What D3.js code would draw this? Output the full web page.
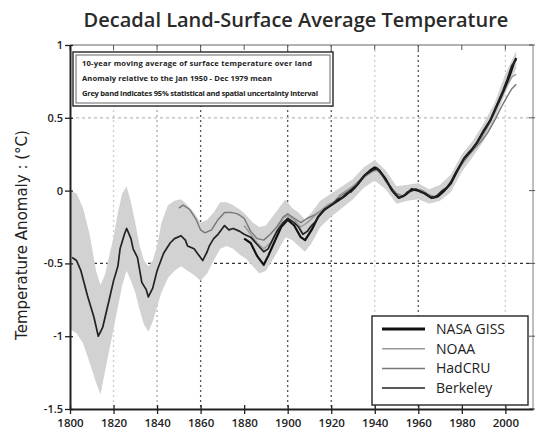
<!DOCTYPE html>
<html>
<head>
<meta charset="utf-8">
<script src="https://cdn.jsdelivr.net/npm/d3@7"></script>
<style>
  body { margin: 0; background: #fff; }
  svg { display: block; }
</style>
</head>
<body>
<div id="chart"></div>
<script>
// ten-year moving averages
const berkeleyYears = [1801,1803,1805,1808,1811,1813,1814,1815,1818,1820,1822,1823,1825,1826,1828,1829,1831,1833,1835,1836,1838,1840,1843,1846,1848,1851,1853,1854,1857,1859,1861,1863,1864,1866,1868,1871,1873,1875,1878,1880,1883,1886,1889,1891,1893,1895,1898,1900,1903,1905,1907,1909,1911,1913,1915,1917,1919,1921,1923,1925,1927,1929,1931,1933,1935,1937,1939,1941,1943,1945,1947,1949,1951,1953,1955,1957,1959,1961,1963,1965,1967,1969,1971,1973,1975,1977,1979,1981,1983,1985,1987,1989,1991,1993,1995,1997,1999,2001,2003,2005];
const berkeleyTemps = [-0.46,-0.48,-0.55,-0.72,-0.87,-1.00,-0.97,-0.94,-0.75,-0.62,-0.52,-0.40,-0.30,-0.26,-0.33,-0.40,-0.46,-0.63,-0.68,-0.73,-0.67,-0.55,-0.43,-0.36,-0.33,-0.31,-0.34,-0.38,-0.40,-0.44,-0.48,-0.42,-0.38,-0.33,-0.30,-0.24,-0.27,-0.26,-0.28,-0.30,-0.32,-0.37,-0.42,-0.40,-0.34,-0.28,-0.22,-0.19,-0.22,-0.25,-0.30,-0.28,-0.24,-0.21,-0.16,-0.13,-0.11,-0.09,-0.06,-0.05,-0.02,-0.01,0.02,0.06,0.10,0.12,0.14,0.15,0.12,0.07,0.03,-0.02,-0.05,-0.04,-0.01,0.00,0.01,-0.01,-0.02,-0.04,-0.05,-0.03,0.00,0.02,0.06,0.12,0.17,0.22,0.26,0.29,0.33,0.38,0.43,0.48,0.55,0.62,0.69,0.77,0.86,0.90];

const nasaYears = [1880,1883,1886,1889,1891,1894,1897,1900,1903,1906,1908,1911,1914,1917,1920,1923,1926,1929,1932,1935,1938,1940,1942,1945,1948,1951,1954,1957,1960,1963,1966,1969,1972,1975,1978,1981,1984,1987,1990,1993,1996,1999,2002,2004,2005];
const nasaTemps = [-0.33,-0.36,-0.45,-0.51,-0.45,-0.35,-0.25,-0.20,-0.24,-0.32,-0.34,-0.27,-0.18,-0.13,-0.10,-0.07,-0.04,0.00,0.04,0.10,0.14,0.16,0.14,0.08,0.00,-0.05,-0.03,0.01,0.00,-0.02,-0.05,-0.04,0.00,0.05,0.14,0.22,0.27,0.33,0.41,0.48,0.58,0.68,0.79,0.88,0.91];

const noaaYears = [1880,1883,1886,1889,1892,1895,1898,1900,1903,1906,1909,1912,1915,1918,1921,1924,1927,1930,1933,1936,1939,1941,1944,1947,1950,1953,1956,1959,1962,1965,1968,1971,1974,1977,1980,1983,1986,1989,1992,1995,1998,2001,2003,2005];
const noaaTemps = [-0.24,-0.30,-0.36,-0.40,-0.36,-0.28,-0.19,-0.17,-0.20,-0.25,-0.22,-0.18,-0.14,-0.10,-0.08,-0.03,0.00,0.03,0.06,0.10,0.13,0.14,0.09,0.03,-0.03,-0.04,-0.01,0.01,0.00,-0.03,-0.04,-0.01,0.03,0.10,0.19,0.25,0.30,0.36,0.44,0.53,0.63,0.73,0.78,0.80];

const hadcruYears = [1850,1852,1855,1858,1860,1862,1865,1868,1871,1874,1877,1880,1883,1886,1889,1892,1895,1898,1900,1903,1906,1909,1912,1915,1918,1921,1924,1927,1930,1933,1936,1939,1941,1944,1947,1950,1953,1956,1959,1962,1965,1968,1971,1974,1977,1980,1983,1986,1989,1992,1995,1998,2001,2003,2005];
const hadcruTemps = [-0.12,-0.10,-0.13,-0.20,-0.27,-0.29,-0.27,-0.20,-0.15,-0.15,-0.16,-0.19,-0.28,-0.33,-0.34,-0.30,-0.25,-0.18,-0.16,-0.19,-0.22,-0.19,-0.17,-0.14,-0.12,-0.08,-0.04,-0.01,0.03,0.07,0.11,0.15,0.16,0.10,0.03,-0.02,-0.04,-0.01,0.01,0.00,-0.03,-0.05,-0.01,0.03,0.11,0.18,0.24,0.29,0.34,0.40,0.48,0.57,0.65,0.70,0.73];

// 95% uncertainty band around Berkeley
const bandYears = [1800,1803,1806,1809,1812,1814,1816,1818,1820,1822,1824,1826,1828,1830,1832,1834,1836,1838,1840,1842,1845,1848,1851,1854,1857,1860,1863,1866,1869,1872,1875,1878,1881,1884,1887,1890,1893,1896,1899,1902,1905,1908,1911,1915,1920,1925,1930,1935,1940,1945,1950,1955,1960,1965,1970,1975,1980,1985,1990,1995,2000,2005];
const bandLow = [-0.95,-0.98,-1.05,-1.18,-1.32,-1.40,-1.25,-1.10,-0.95,-0.80,-0.65,-0.55,-0.62,-0.70,-0.82,-0.92,-0.97,-0.90,-0.80,-0.70,-0.60,-0.55,-0.52,-0.55,-0.58,-0.62,-0.57,-0.48,-0.40,-0.38,-0.40,-0.44,-0.47,-0.52,-0.57,-0.55,-0.48,-0.40,-0.32,-0.34,-0.38,-0.42,-0.36,-0.25,-0.18,-0.12,-0.06,0.02,0.07,0.01,-0.09,-0.07,-0.06,-0.09,-0.07,-0.01,0.13,0.23,0.34,0.48,0.67,0.84];
const bandHigh = [0.00,-0.02,-0.12,-0.30,-0.55,-0.65,-0.58,-0.45,-0.32,-0.15,-0.02,0.03,-0.08,-0.22,-0.38,-0.48,-0.52,-0.48,-0.38,-0.22,-0.10,-0.07,-0.06,-0.10,-0.15,-0.22,-0.20,-0.15,-0.08,-0.08,-0.10,-0.13,-0.17,-0.22,-0.25,-0.24,-0.18,-0.12,-0.06,-0.12,-0.15,-0.20,-0.15,-0.07,-0.02,0.03,0.08,0.16,0.21,0.14,0.03,0.04,0.05,0.01,0.04,0.11,0.25,0.34,0.46,0.60,0.80,0.96];

const xTicks = [1800,1820,1840,1860,1880,1900,1920,1940,1960,1980,2000];
const yTicks = [1,0.5,0,-0.5,-1,-1.5];
const yTickLabels = ["1","0.5","0","-0.5","-1","-1.5"];
const seriesNames = ["NASA GISS","NOAA","HadCRU","Berkeley"];
const notes = [
  "10-year moving average of surface temperature over land",
  "Anomaly relative to the Jan 1950 - Dec 1979 mean",
  "Grey band indicates 95% statistical and spatial uncertainty interval"
];

const W = 537, H = 434;
const mLeft = 70, mRight = 533, mTop = 45, mBottom = 409;

const svg = d3.select("#chart").append("svg")
  .attr("width", W)
  .attr("height", H)
  .style("font-family", "'Open Sans', sans-serif");

const x = d3.scaleLinear().domain([1800, 2012.7]).range([mLeft, mRight]);
const y = d3.scaleLinear().domain([-1.5, 1]).range([mBottom, mTop]);

// title
svg.append("text")
  .attr("x", 296).attr("y", 27)
  .attr("text-anchor", "middle")
  .attr("font-size", 20)
  .attr("font-weight", 600)
  .attr("fill", "#2a2a2a")
  .text("Decadal Land-Surface Average Temperature");

// gridlines, some darker than others like in the picture
const vGrid = [[1820,"#ccc"],[1840,"#aaa"],[1860,"#555"],[1900,"#555"],[1920,"#555"],[1940,"#ccc"],[1960,"#555"],[2000,"#ccc"]];
svg.append("g").selectAll("line")
  .data(vGrid)
  .join("line")
  .attr("x1", d => x(d[0])).attr("x2", d => x(d[0]))
  .attr("y1", mTop).attr("y2", mBottom)
  .attr("stroke", d => d[1])
  .attr("stroke-width", 1.3)
  .attr("stroke-dasharray", "2,3");

const hGrid = [[0.5,"#bbb"],[-0.5,"#333"]];
svg.append("g").selectAll("line")
  .data(hGrid)
  .join("line")
  .attr("x1", mLeft).attr("x2", mRight)
  .attr("y1", d => y(d[0])).attr("y2", d => y(d[0]))
  .attr("stroke", d => d[1])
  .attr("stroke-width", 1.3)
  .attr("stroke-dasharray", "3,3");

// uncertainty band
const band = bandYears.map((yr, i) => ({ yr: yr, lo: bandLow[i], hi: bandHigh[i] }));
svg.append("path")
  .datum(band)
  .attr("fill", "#d2d2d2")
  .attr("d", d3.area()
    .x(d => x(d.yr))
    .y0(d => y(d.lo))
    .y1(d => y(d.hi)));

const line = d3.line()
  .x(d => x(d[0]))
  .y(d => y(d[1]));

function zipSeries(years, temps) {
  return years.map((yr, i) => [yr, temps[i]]);
}

const series = [
  { data: zipSeries(hadcruYears, hadcruTemps), color: "#777", width: 1.4 },
  { data: zipSeries(noaaYears, noaaTemps), color: "#999", width: 1.4 },
  { data: zipSeries(nasaYears, nasaTemps), color: "#111", width: 2.2 },
  { data: zipSeries(berkeleyYears, berkeleyTemps), color: "#222", width: 1.7 }
];

svg.append("g").selectAll("path")
  .data(series)
  .join("path")
  .attr("fill", "none")
  .attr("stroke", d => d.color)
  .attr("stroke-width", d => d.width)
  .attr("stroke-linejoin", "round")
  .attr("d", d => line(d.data));

// frame: top and right light, left and bottom heavy
svg.append("line")
  .attr("x1", mLeft).attr("x2", mRight).attr("y1", mTop).attr("y2", mTop)
  .attr("stroke", "#999").attr("stroke-width", 1.5);
svg.append("line")
  .attr("x1", mRight).attr("x2", mRight).attr("y1", mTop).attr("y2", mBottom)
  .attr("stroke", "#aaa").attr("stroke-width", 1.5);

// top ticks
svg.append("g").selectAll("line")
  .data(xTicks)
  .join("line")
  .attr("x1", d => x(d)).attr("x2", d => x(d))
  .attr("y1", mTop).attr("y2", mTop + 5)
  .attr("stroke", "#555");

// right ticks
svg.append("g").selectAll("line")
  .data(yTicks)
  .join("line")
  .attr("x1", mRight - 4).attr("x2", mRight + 2)
  .attr("y1", d => y(d)).attr("y2", d => y(d))
  .attr("stroke", "#555");

const xAxis = svg.append("g")
  .attr("transform", "translate(0," + mBottom + ")")
  .call(d3.axisBottom(x).tickValues(xTicks).tickFormat(d3.format("d")).tickSize(5).tickSizeOuter(0));
xAxis.select(".domain").attr("stroke", "#222").attr("stroke-width", 2);
xAxis.selectAll(".tick line").attr("y1", -4).attr("stroke", "#222").attr("stroke-width", 1.3);
xAxis.selectAll(".tick text")
  .attr("y", 10)
  .attr("font-size", 11.5)
  .attr("font-weight", 600)
  .attr("font-family", "'Open Sans', sans-serif")
  .attr("fill", "#222");

const yAxis = svg.append("g")
  .attr("transform", "translate(" + mLeft + ",0)")
  .call(d3.axisLeft(y).tickValues(yTicks).tickFormat((d, i) => yTickLabels[i]).tickSize(5).tickSizeOuter(0));
yAxis.select(".domain").attr("stroke", "#222").attr("stroke-width", 2);
yAxis.selectAll(".tick line").attr("x1", -5).attr("x2", 3).attr("stroke", "#222").attr("stroke-width", 1.3);
yAxis.selectAll(".tick text")
  .attr("x", -7)
  .attr("font-size", 11)
  .attr("font-weight", 600)
  .attr("font-family", "'Open Sans', sans-serif")
  .attr("fill", "#222");

// y axis title
svg.append("text")
  .attr("transform", "translate(27,235) rotate(-90)")
  .attr("text-anchor", "middle")
  .attr("font-family", "'DejaVu Sans', sans-serif")
  .attr("font-size", 15)
  .attr("fill", "#222")
  .text("Temperature Anomaly : (°C)");

// note box top left
const note = svg.append("g");
note.append("rect")
  .attr("x", 73).attr("y", 52).attr("width", 260).attr("height", 54)
  .attr("fill", "#fff").attr("stroke", "#333").attr("stroke-width", 1.5);
note.append("rect")
  .attr("x", 76).attr("y", 55).attr("width", 254).attr("height", 48)
  .attr("fill", "none").attr("stroke", "#666").attr("stroke-width", 1);
note.selectAll("text")
  .data(notes)
  .join("text")
  .attr("x", 82)
  .attr("y", (d, i) => 66 + i * 15)
  .attr("font-size", 7.6)
  .attr("font-weight", 700)
  .attr("fill", "#222")
  .attr("textLength", (d, i) => [230, 190, 236][i])
  .text(d => d);

// legend
const legend = svg.append("g");
legend.append("rect")
  .attr("x", 372).attr("y", 316).attr("width", 156).attr("height", 89)
  .attr("fill", "#fff").attr("stroke", "#333").attr("stroke-width", 1.5);
const legendStyles = [series[2], series[1], series[0], series[3]];
const rows = legend.selectAll("g.row")
  .data(seriesNames)
  .join("g")
  .attr("class", "row")
  .attr("transform", (d, i) => "translate(0," + (329 + i * 19.7) + ")");
rows.append("line")
  .attr("x1", 382).attr("x2", 425)
  .attr("stroke", (d, i) => legendStyles[i].color)
  .attr("stroke-width", (d, i) => i === 0 ? 3 : 1.5);
rows.append("text")
  .attr("x", 436)
  .attr("y", 5)
  .attr("font-size", 14)
  .attr("fill", "#222")
  .text(d => d);
</script>
</body>
</html>
